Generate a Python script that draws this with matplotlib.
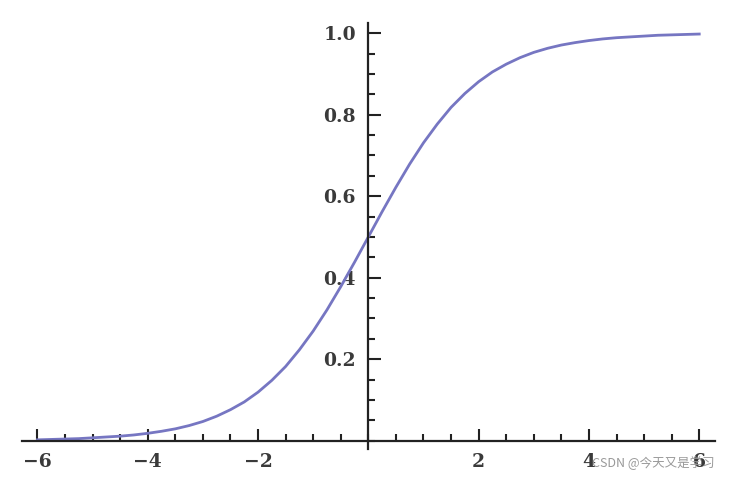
import matplotlib.pyplot as plt
from matplotlib.ticker import MultipleLocator, FixedLocator

# values, every 0.25 on x
x_vals = [i * 0.25 - 6 for i in range(49)]
y_vals = [0.002, 0.003, 0.004, 0.005, 0.007, 0.009, 0.011, 0.014, 0.018, 0.023, 0.029, 0.037,
          0.047, 0.060, 0.076, 0.095, 0.119, 0.148, 0.182, 0.223, 0.269, 0.321, 0.378, 0.438,
          0.500,
          0.562, 0.622, 0.679, 0.731, 0.777, 0.818, 0.852, 0.881, 0.905, 0.924, 0.940, 0.953,
          0.963, 0.971, 0.977, 0.982, 0.986, 0.989, 0.991, 0.993, 0.995, 0.996, 0.997, 0.998]

x_ticks = [-6, -4, -2, 2, 4, 6]
x_tick_labels = ["\u22126", "\u22124", "\u22122", "2", "4", "6"]
y_ticks = [0.2, 0.4, 0.6, 0.8, 1.0]
y_tick_labels = ["0.2", "0.4", "0.6", "0.8", "1.0"]

fig = plt.figure(figsize=(7.33, 4.8), dpi=100)
ax = fig.add_axes([0.030, 0.065, 0.945, 0.887])

ax.plot(x_vals, y_vals, color="#7676c2", linewidth=2.0)

ax.set_xlim(-6.28, 6.28)
ax.set_ylim(-0.02, 1.025)

for side in ["top", "right"]:
    ax.spines[side].set_visible(False)
ax.spines["left"].set_position(("data", 0))
ax.spines["bottom"].set_position(("data", 0))
for side in ["left", "bottom"]:
    ax.spines[side].set_linewidth(1.6)
    ax.spines[side].set_color("#222222")

ax.xaxis.set_major_locator(FixedLocator(x_ticks))
ax.xaxis.set_minor_locator(MultipleLocator(0.5))
ax.yaxis.set_major_locator(FixedLocator(y_ticks))
ax.yaxis.set_minor_locator(MultipleLocator(0.05))
ax.set_xticklabels(x_tick_labels)
ax.set_yticklabels(y_tick_labels)

ax.tick_params(which="major", direction="in", length=9, width=1.5, color="#222222",
               labelsize=13.5, pad=9)
ax.tick_params(which="minor", direction="in", length=5, width=1.5, color="#222222")
for lab in ax.get_xticklabels() + ax.get_yticklabels():
    lab.set_family("DejaVu Serif")
    lab.set_weight("bold")
    lab.set_color("#3a3a3a")

fig.text(0.807, 0.027, "CSDN @今天又是学习", fontsize=9, color="#999999",
         family=["Noto Sans CJK SC", "DejaVu Sans"])

plt.savefig("out.png", dpi=100)
